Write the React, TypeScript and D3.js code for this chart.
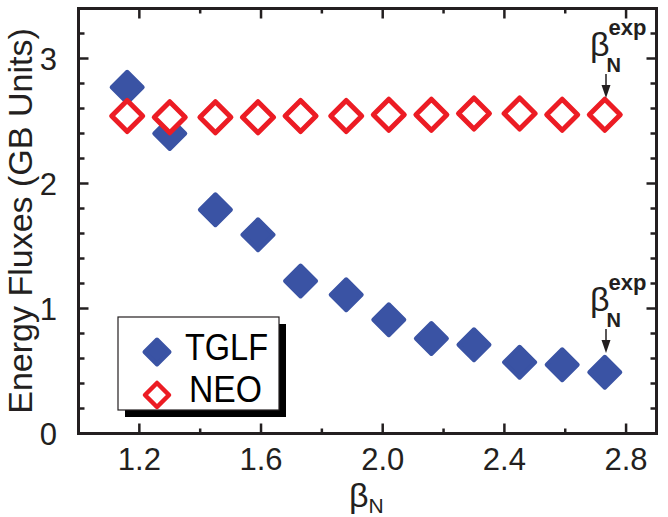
import React from "react";
import * as d3 from "d3";

const betaN = [1.16, 1.30, 1.45, 1.59, 1.73, 1.88, 2.02, 2.16, 2.30, 2.45, 2.59, 2.73];
const tglf = [2.77, 2.40, 1.79, 1.59, 1.22, 1.11, 0.91, 0.76, 0.71, 0.57, 0.55, 0.49];
const neo = [2.54, 2.53, 2.53, 2.53, 2.54, 2.54, 2.55, 2.55, 2.56, 2.56, 2.55, 2.55];
const xMajor = [1.2, 1.6, 2.0, 2.4, 2.8];
const xMinor = [1.4, 1.8, 2.2, 2.6];
const yMajor = [0, 1, 2, 3];
const yMinor = [0.2, 0.4, 0.6, 0.8, 1.2, 1.4, 1.6, 1.8, 2.2, 2.4, 2.6, 2.8, 3.2];
const xTickLabels = ["1.2", "1.6", "2.0", "2.4", "2.8"];
const yTickLabels = ["0", "1", "2", "3"];
const legendLabels = ["TGLF", "NEO"];

const W = 668;
const H = 517;
const FONT = "'Liberation Sans', Arial, Helvetica, sans-serif";
const TXT = "#231f20";
const BLUE = "#3a53a4";
const RED = "#ec1c24";

const diamond = (r: number) => `M0,${-r}L${r},0L0,${r}L${-r},0Z`;

export default function App() {
  const x = d3.scaleLinear().domain([1.0, 2.9]).range([78.5, 656.5]);
  const y = d3.scaleLinear().domain([0, 3.4]).range([433.5, 8.5]);
  const [x0, x1] = x.range();
  const [y0, y1] = y.range();

  const annot = (dy: number) => (
    <g transform={`translate(0,${dy})`} fill={TXT}>
      <text x={590} y={56} fontSize={34} fontFamily={FONT}>
        β
        <tspan dx={-3} dy={16} fontSize={20} fontWeight="bold">N</tspan>
        <tspan dx={-12.5} dy={-37} fontSize={22} fontWeight="bold">exp</tspan>
      </text>
      <line x1={606} x2={606} y1={74} y2={88} stroke={TXT} strokeWidth={1.5} />
      <path d="M601.5,85L610.5,85L606,98Z" fill={TXT} />
    </g>
  );

  return (
    <svg width={W} height={H} style={{ position: "absolute", left: 0, top: 0 }}>
      <rect width={W} height={H} fill="white" />
      <g stroke={TXT} strokeWidth={2.5}>
        {xMajor.map((v) => (
          <g key={"xM" + v}>
            <line x1={x(v)} x2={x(v)} y1={y0} y2={y0 - 10} />
            <line x1={x(v)} x2={x(v)} y1={y1} y2={y1 + 10} />
          </g>
        ))}
        {xMinor.map((v) => (
          <g key={"xm" + v}>
            <line x1={x(v)} x2={x(v)} y1={y0} y2={y0 - 5} />
            <line x1={x(v)} x2={x(v)} y1={y1} y2={y1 + 5} />
          </g>
        ))}
        {yMajor.map((v) => (
          <g key={"yM" + v}>
            <line x1={x0} x2={x0 + 10} y1={y(v)} y2={y(v)} />
            <line x1={x1} x2={x1 - 10} y1={y(v)} y2={y(v)} />
          </g>
        ))}
        {yMinor.map((v) => (
          <g key={"ym" + v}>
            <line x1={x0} x2={x0 + 6} y1={y(v)} y2={y(v)} />
            <line x1={x1} x2={x1 - 6} y1={y(v)} y2={y(v)} />
          </g>
        ))}
      </g>
      <rect x={x0} y={y1} width={x1 - x0} height={y0 - y1} fill="none" stroke={TXT} strokeWidth={3} />
      <g fontFamily={FONT} fontSize={31} fill={TXT}>
        {xMajor.map((v, i) => (
          <text key={"xl" + v} x={x(v)} y={470} textAnchor="middle">{xTickLabels[i]}</text>
        ))}
        {yMajor.map((v, i) => (
          <text key={"yl" + v} x={57} y={y(v) + 11} textAnchor="end">{yTickLabels[i]}</text>
        ))}
      </g>
      <text x={349} y={507} fontFamily={FONT} fontSize={34} fill={TXT}>
        β<tspan fontSize={21} dy={6}>N</tspan>
      </text>
      <text
        transform={`translate(32,221) rotate(-90)`}
        textAnchor="middle"
        fontFamily={FONT}
        fontSize={34}
        fill={TXT}
      >
        Energy Fluxes (GB Units)
      </text>
      <g>
        {betaN.map((b, i) => (
          <path
            key={"t" + i}
            d={diamond(15.5)}
            transform={`translate(${x(b)},${y(tglf[i])})`}
            fill={BLUE}
            stroke={BLUE}
            strokeWidth={4}
            strokeLinejoin="round"
          />
        ))}
        {betaN.map((b, i) => (
          <path
            key={"n" + i}
            d={diamond(15.5)}
            transform={`translate(${x(b)},${y(neo[i])})`}
            fill="white"
            stroke={RED}
            strokeWidth={5}
            strokeLinejoin="round"
          />
        ))}
      </g>
      {annot(0)}
      {annot(255)}
      <rect x={125} y={324} width={161} height={93} fill="black" />
      <rect x={118} y={317} width={161} height={93} fill="white" stroke={TXT} strokeWidth={1.2} />
      <path d={diamond(12.5)} transform="translate(157,352)" fill={BLUE} stroke={BLUE} strokeWidth={4} strokeLinejoin="round" />
      <path d={diamond(12)} transform="translate(157,395)" fill="white" stroke={RED} strokeWidth={4.5} strokeLinejoin="round" />
      <g fontFamily={FONT} fontSize={36} fill="black">
        <text x={185} y={360} textLength={83} lengthAdjust="spacingAndGlyphs">{legendLabels[0]}</text>
        <text x={189} y={402} textLength={73} lengthAdjust="spacingAndGlyphs">{legendLabels[1]}</text>
      </g>
    </svg>
  );
}
